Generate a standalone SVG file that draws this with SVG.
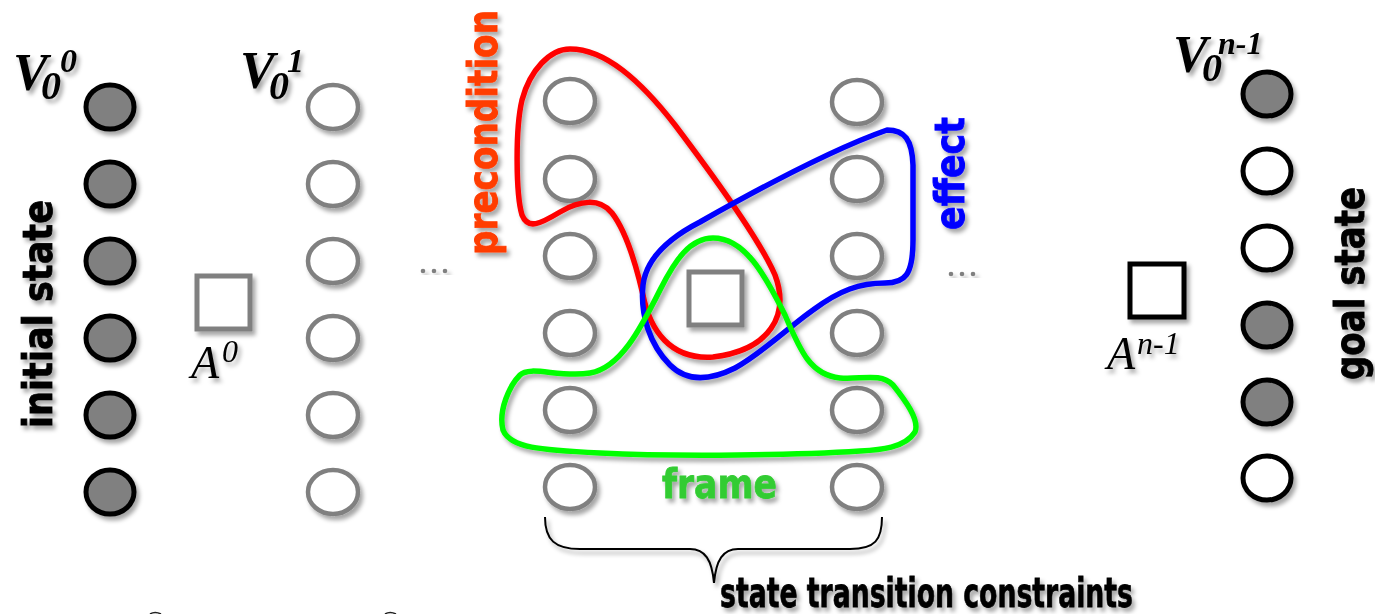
<svg xmlns="http://www.w3.org/2000/svg" width="1375" height="614" viewBox="0 0 1375 614">
<defs>
<filter id="sh" x="-30%" y="-30%" width="160%" height="160%">
<feDropShadow dx="3" dy="4" stdDeviation="2" flood-color="#000" flood-opacity="0.35"/>
</filter>
</defs>
<style>
.blk{fill:#808080;stroke:#000;stroke-width:5}
.blkw{fill:#fff;stroke:#000;stroke-width:5}
.gry{fill:#fff;stroke:#808080;stroke-width:4.5}
.lbl{font-family:"DejaVu Sans","Liberation Sans",sans-serif;font-weight:bold;font-size:41px;stroke-width:0.8}
.var{font-family:"Liberation Serif","Times New Roman",serif;font-weight:bold;font-style:italic;fill:#000}
.act{font-family:"Liberation Serif","Times New Roman",serif;font-style:italic;fill:#000}
.hull{fill:none;stroke-width:5.5;stroke-linejoin:round}
.dot{fill:#808080}
</style>
<rect width="1375" height="614" fill="#fff"/>

<g id="state0" filter="url(#sh)">
<ellipse class="blk" cx="110" cy="107" rx="24" ry="22"/>
<ellipse class="blk" cx="110" cy="184" rx="24" ry="22"/>
<ellipse class="blk" cx="110" cy="261" rx="24" ry="22"/>
<ellipse class="blk" cx="110" cy="338" rx="24" ry="22"/>
<ellipse class="blk" cx="110" cy="415" rx="24" ry="22"/>
<ellipse class="blk" cx="110" cy="492" rx="24" ry="22"/>
<text class="var"><tspan x="13" y="90" font-size="52">V</tspan><tspan x="41" y="99" font-size="40">0</tspan><tspan x="60" y="72" font-size="34">0</tspan></text>
</g>

<g id="action0" filter="url(#sh)">
<rect x="197" y="276" width="53" height="53" fill="#fff" stroke="#808080" stroke-width="5"/>
<text class="act"><tspan x="191" y="378" font-size="46">A</tspan><tspan x="222" y="362" font-size="32">0</tspan></text>
</g>

<g id="state1" filter="url(#sh)">
<ellipse class="gry" cx="333" cy="107" rx="25" ry="22"/>
<ellipse class="gry" cx="333" cy="184" rx="25" ry="22"/>
<ellipse class="gry" cx="333" cy="261" rx="25" ry="22"/>
<ellipse class="gry" cx="333" cy="338" rx="25" ry="22"/>
<ellipse class="gry" cx="333" cy="415" rx="25" ry="22"/>
<ellipse class="gry" cx="333" cy="492" rx="25" ry="22"/>
<text class="var"><tspan x="240" y="88" font-size="52">V</tspan><tspan x="269" y="99" font-size="40">0</tspan><tspan x="287" y="72" font-size="34">1</tspan></text>
</g>

<g id="ellipsis1" filter="url(#sh)">
<circle class="dot" cx="423" cy="271" r="2.3"/>
<circle class="dot" cx="434" cy="271" r="2.3"/>
<circle class="dot" cx="445" cy="271" r="2.3"/>
</g>

<g id="stateI" filter="url(#sh)">
<ellipse class="gry" cx="570" cy="101" rx="25" ry="22"/>
<ellipse class="gry" cx="570" cy="179" rx="25" ry="22"/>
<ellipse class="gry" cx="570" cy="256" rx="25" ry="22"/>
<ellipse class="gry" cx="570" cy="333" rx="25" ry="22"/>
<ellipse class="gry" cx="570" cy="410" rx="25" ry="22"/>
<ellipse class="gry" cx="570" cy="487" rx="25" ry="22"/>
</g>

<g id="actionI" filter="url(#sh)">
<rect x="689" y="272" width="53" height="53" fill="#fff" stroke="#808080" stroke-width="5"/>
</g>

<g id="stateI1" filter="url(#sh)">
<ellipse class="gry" cx="857" cy="102" rx="25" ry="22"/>
<ellipse class="gry" cx="857" cy="179" rx="25" ry="22"/>
<ellipse class="gry" cx="857" cy="256" rx="25" ry="22"/>
<ellipse class="gry" cx="857" cy="333" rx="25" ry="22"/>
<ellipse class="gry" cx="857" cy="410" rx="25" ry="22"/>
<ellipse class="gry" cx="857" cy="487" rx="25" ry="22"/>
</g>

<g id="ellipsis2" filter="url(#sh)">
<circle class="dot" cx="951" cy="274" r="2.3"/>
<circle class="dot" cx="962" cy="274" r="2.3"/>
<circle class="dot" cx="973" cy="274" r="2.3"/>
</g>

<g id="actionN" filter="url(#sh)">
<rect x="1130" y="264" width="54" height="53" fill="#fff" stroke="#000" stroke-width="5"/>
<text class="act"><tspan x="1107" y="369" font-size="46">A</tspan><tspan x="1137" y="354" font-size="32">n-1</tspan></text>
</g>

<g id="stateN" filter="url(#sh)">
<ellipse class="blk" cx="1267" cy="94" rx="24" ry="22"/>
<ellipse class="blkw" cx="1267" cy="171" rx="24" ry="22"/>
<ellipse class="blkw" cx="1267" cy="248" rx="24" ry="22"/>
<ellipse class="blk" cx="1267" cy="325" rx="24" ry="22"/>
<ellipse class="blk" cx="1267" cy="402" rx="24" ry="22"/>
<ellipse class="blkw" cx="1267" cy="478" rx="24" ry="22"/>
<text class="var"><tspan x="1173" y="72" font-size="52">V</tspan><tspan x="1202" y="81" font-size="40">0</tspan><tspan x="1218" y="54" font-size="32">n-1</tspan></text>
</g>

<g id="connectors" filter="url(#sh)">
<path id="precondition" class="hull" stroke="#ff0000" d="M570,49 C605,49 640,80 675,125 C715,178 760,240 775,275 C790,315 770,350 713,357 C670,360 650,330 643,295 C635,260 625,230 612,213 C600,198 580,200 560,212 C540,224 528,230 522,215 C516,195 515,130 522,100 C530,70 550,49 570,49 Z"/>
<path id="effect" class="hull" stroke="#0000ff" d="M887,130 C905,130 912,140 913,165 L913,240 C913,275 905,283 885,283 C860,283 840,290 813,310 C790,326 760,355 735,368 C715,378 690,385 670,365 C650,345 640,315 643,285 C646,260 665,240 700,222 C760,188 830,150 887,130 Z"/>
<path id="frame" class="hull" stroke="#00ff00" d="M713,238 C745,238 765,275 785,315 C800,350 810,375 840,378 C860,380 880,372 893,385 C905,400 920,420 915,432 C905,448 880,450 860,451 C800,455 680,457 600,453 C540,450 510,448 503,430 C498,410 510,385 520,375 C530,365 560,378 590,373 C620,368 640,330 660,290 C675,260 690,238 713,238 Z"/>
<path id="brace" fill="none" stroke="#000" stroke-width="2" d="M545,517 C545,540 555,549 580,549 L690,549 C705,549 712,560 714,583 C716,560 723,549 738,549 L850,549 C875,549 882,540 882,517"/>
</g>

<g id="labels" filter="url(#sh)">
<text class="lbl" transform="translate(52,428) rotate(-90)" textLength="228" lengthAdjust="spacingAndGlyphs" fill="#000" stroke="#000">initial state</text>
<text class="lbl" transform="translate(1364,380) rotate(-90)" textLength="193" lengthAdjust="spacingAndGlyphs" fill="#000" stroke="#000">goal state</text>
<text class="lbl" transform="translate(497,255) rotate(-90)" textLength="245" lengthAdjust="spacingAndGlyphs" fill="#ff3c00" stroke="#ff3c00">precondition</text>
<text class="lbl" transform="translate(964,230) rotate(-90)" textLength="113" lengthAdjust="spacingAndGlyphs" fill="#0000ff" stroke="#0000ff">effect</text>
<text class="lbl" x="662" y="498" textLength="115" lengthAdjust="spacingAndGlyphs" fill="#33cc33" stroke="#33cc33">frame</text>
<text class="lbl" x="720" y="607" font-size="38" textLength="413" lengthAdjust="spacingAndGlyphs" fill="#000" stroke="#000">state transition constraints</text>
</g>

<g id="cutoff" fill="none" stroke="#222" stroke-width="1.5">
<path d="M150,614 Q155,611 161,614"/>
<path d="M385,614 Q390,611 396,614"/>
</g>
</svg>
